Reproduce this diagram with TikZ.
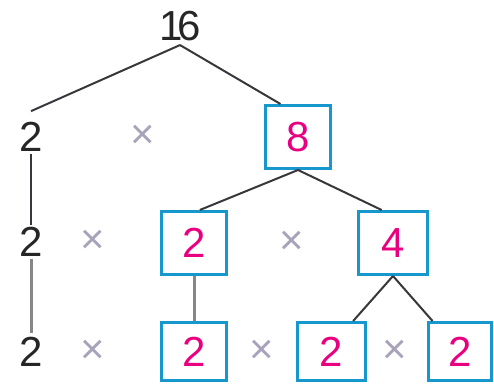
\documentclass[tikz,border=0pt]{standalone}
\usepackage{fontspec}
\setmainfont{Liberation Sans}
\definecolor{boxblue}{RGB}{22,152,206}
\definecolor{numpink}{RGB}{232,0,128}
\definecolor{timesgrey}{RGB}{168,162,186}
\definecolor{linedark}{RGB}{55,55,60}
\definecolor{linegrey}{RGB}{135,135,135}

\begin{document}
\begin{tikzpicture}[x = 1pt, y = 1pt,
	main/.style = {draw = boxblue, line width = 3pt, minimum width = 65pt, minimum height = 63pt, text = numpink, font = \fontsize{42}{42}\selectfont},
	num/.style = {inner sep = 2pt, text = black!85, font = \fontsize{42}{42}\selectfont},
	times/.style = {inner sep = 0pt, text = timesgrey, font = \fontsize{42}{42}\selectfont},
	thin/.style = {draw = linedark, line width = 2pt},
	thick/.style = {draw = linegrey, line width = 3pt}]
	\useasboundingbox (0,0) rectangle (494,383);
	\node[num] (16) at (180,357) {1\kern-5pt 6};
	\node[num] (2a) at (31,246) {2};
	\node[times] (x1) at (143,246) {×};
	\node[main] (8) at (298,246) {8};
	\node[num] (2b) at (31,141) {2};
	\node[times] (x2) at (93,141) {×};
	\node[main] (2c) at (194,140) {2};
	\node[times] (x3) at (292,140) {×};
	\node[main, minimum width = 69pt] (4) at (393,140) {4};
	\node[num] (2d) at (31,31) {2};
	\node[times] (x4) at (93,31) {×};
	\node[main, minimum height = 58pt] (2e) at (194,31.5) {2};
	\node[times] (x5) at (262,31) {×};
	\node[main, minimum height = 58pt, minimum width = 68pt] (2f) at (331,31.5) {2};
	\node[times] (x6) at (395,31) {×};
	\node[main, minimum height = 58pt, minimum width = 63pt] (2g) at (460,31.5) {2};
	\draw[thin] ([yshift = -2pt]16.south) -- ([yshift = 9pt]2a.north);
	\draw[thin] ([yshift = -2pt]16.south) -- (8.118);
	\draw[thin] (2a.south) -- (2b.north);
	\draw[thick] (2b.south) -- ([yshift = 2pt]2d.north);
	\draw[thin] (8.south) -- (2c.80);
	\draw[thin] (8.south) -- (4.109);
	\draw[thick] (2c.south) -- (2e.north);
	\draw[thin] (4.south) -- (2f.54);
	\draw[thin] (4.south) -- (2g.132);
\end{tikzpicture}
\end{document}
